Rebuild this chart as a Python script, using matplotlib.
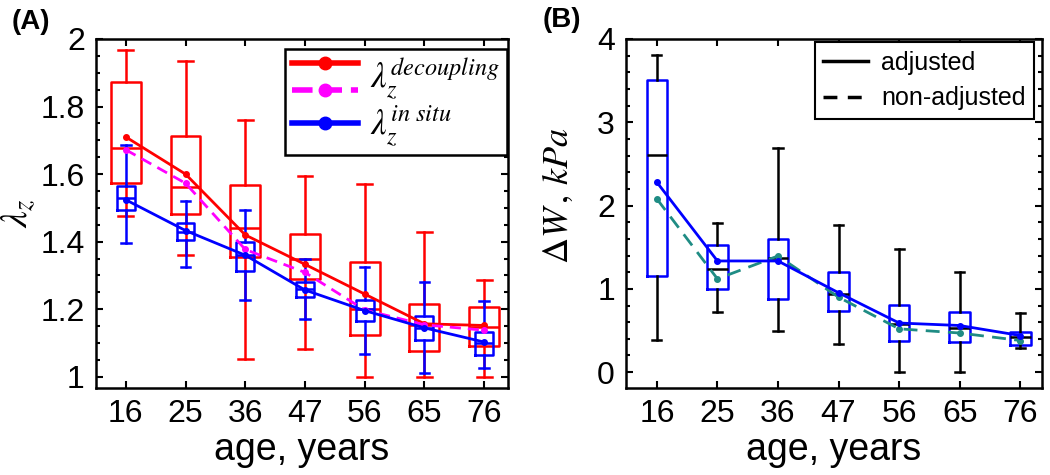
import matplotlib

matplotlib.use("Agg")

import matplotlib.pyplot as plt
from matplotlib.legend_handler import HandlerBase
from matplotlib.lines import Line2D
from matplotlib.ticker import FormatStrFormatter, MultipleLocator

plt.rcParams["font.family"] = ["Liberation Sans", "DejaVu Sans"]
plt.rcParams["mathtext.fontset"] = "stix"

ages = ["16", "25", "36", "47", "56", "65", "76"]

# (A) lambda_z decoupling (red boxes)
dec_whishi = [1.966, 1.936, 1.760, 1.594, 1.571, 1.430, 1.286]
dec_q3 = [1.874, 1.713, 1.567, 1.424, 1.341, 1.216, 1.208]
dec_med = [1.678, 1.561, 1.440, 1.350, 1.200, 1.152, 1.148]
dec_q1 = [1.573, 1.483, 1.355, 1.290, 1.125, 1.077, 1.091]
dec_whislo = [1.475, 1.360, 1.054, 1.081, 1.000, 1.000, 1.000]
dec_mean = [1.710, 1.600, 1.420, 1.333, 1.245, 1.157, 1.152]
dec_mean_nonadj = [1.672, 1.573, 1.377, 1.309, 1.198, 1.154, 1.138]

# (A) lambda_z in situ (blue boxes)
ins_whishi = [1.685, 1.521, 1.493, 1.348, 1.325, 1.282, 1.223]
ins_q3 = [1.566, 1.454, 1.400, 1.282, 1.226, 1.179, 1.133]
ins_med = [1.530, 1.430, 1.360, 1.260, 1.200, 1.145, 1.100]
ins_q1 = [1.493, 1.404, 1.312, 1.235, 1.165, 1.108, 1.066]
ins_whislo = [1.395, 1.326, 1.226, 1.172, 1.067, 1.011, 1.025]
ins_mean = [1.524, 1.433, 1.360, 1.257, 1.196, 1.145, 1.103]

# (B) delta W, kPa
dw_whishi = [3.81, 1.785, 2.69, 1.77, 1.475, 1.206, 0.71]
dw_q3 = [3.51, 1.53, 1.60, 1.20, 0.81, 0.72, 0.48]
dw_med = [2.61, 1.24, 1.375, 0.94, 0.58, 0.53, 0.42]
dw_q1 = [1.16, 1.00, 0.88, 0.74, 0.38, 0.36, 0.33]
dw_whislo = [0.39, 0.72, 0.50, 0.34, 0.00, 0.00, 0.29]
dw_mean_adj = [2.28, 1.335, 1.335, 0.953, 0.59, 0.56, 0.44]
dw_mean_nonadj = [2.08, 1.12, 1.395, 0.90, 0.52, 0.47, 0.38]

RED = "#ff0000"
BLUE = "#0000ff"
MAGENTA = "#ff00ff"
TEAL = "#1f8c84"
INK = "#000000"


def box_stats(lo, q1, med, q3, hi):
    return [
        dict(whislo=a, q1=b, med=c, q3=d, whishi=e, fliers=[])
        for a, b, c, d, e in zip(lo, q1, med, q3, hi)
    ]


def draw_boxes(ax, stats, positions, width, capwidth, box_color, whisker_color, median_color, z):
    ax.bxp(
        stats,
        positions=positions,
        widths=width,
        capwidths=capwidth,
        showfliers=False,
        boxprops=dict(color=box_color, linewidth=1.8),
        whiskerprops=dict(color=whisker_color, linewidth=1.8),
        capprops=dict(color=whisker_color, linewidth=1.8),
        medianprops=dict(color=median_color, linewidth=1.8),
        zorder=z,
        manage_ticks=False,
    )


class StackedLines(HandlerBase):
    """Legend handle that stacks several line+marker samples vertically."""

    def create_artists(self, legend, orig_handle, xdescent, ydescent, width, height, fontsize, trans):
        artists = []
        fracs = [0.5] if len(orig_handle) == 1 else [0.9, 0.1]
        x0, x1 = -xdescent, width - xdescent
        for frac, h in zip(fracs, orig_handle):
            y = -ydescent + height * frac
            artists.append(Line2D([x0, x1], [y, y], color=h.get_color(), lw=h.get_linewidth(),
                                  ls=h.get_linestyle(), transform=trans))
            artists.append(Line2D([(x0 + x1) / 2], [y], color=h.get_color(), marker="o",
                                  ms=h.get_markersize(), ls="none", transform=trans))
        return artists


def style_axes(ax, ylim, major, minor, xlim):
    ax.set_xlim(*xlim)
    ax.set_ylim(*ylim)
    ax.set_xticks(positions)
    ax.set_xticklabels(ages)
    ax.yaxis.set_major_locator(MultipleLocator(major))
    ax.yaxis.set_minor_locator(MultipleLocator(minor))
    ax.yaxis.set_major_formatter(FormatStrFormatter("%g"))
    ax.tick_params(which="both", direction="in", top=True, right=True, colors=INK,
                   labelsize=23, width=1.5, pad=8)
    ax.tick_params(which="major", length=5)
    ax.tick_params(which="minor", length=3)
    ax.tick_params(axis="x", which="minor", top=False, bottom=False)
    for spine in ax.spines.values():
        spine.set_linewidth(1.8)
        spine.set_color(INK)
    ax.set_xlabel("age, years", fontsize=27, labelpad=2)


positions = list(range(1, len(ages) + 1))

fig = plt.figure(figsize=(10.5, 4.75), dpi=100)
fig.patch.set_facecolor("white")

# ---------------- (A) ----------------
ax_a = fig.add_axes([0.0914, 0.1832, 0.3924, 0.7347])
draw_boxes(ax_a, box_stats(dec_whislo, dec_q1, dec_med, dec_q3, dec_whishi), positions,
           0.5, 0.25, RED, RED, RED, 2)
draw_boxes(ax_a, box_stats(ins_whislo, ins_q1, ins_med, ins_q3, ins_whishi), positions,
           0.3, 0.16, BLUE, BLUE, BLUE, 3)
ax_a.plot(positions, dec_mean, color=RED, lw=2, marker="o", ms=4, zorder=4)
ax_a.plot(positions, dec_mean_nonadj, color=MAGENTA, lw=2, ls=(0, (4, 2.5)), marker="o", ms=4, zorder=4)
ax_a.plot(positions, ins_mean, color=BLUE, lw=2, marker="o", ms=4, zorder=5)
style_axes(ax_a, (0.967, 2.0), 0.2, 0.05, (0.5, 7.4))
ax_a.set_ylabel(r"$\lambda_z$", fontsize=27, labelpad=0)
ax_a.yaxis.set_label_coords(-0.14, 0.5)

red_h = Line2D([], [], color=RED, lw=4, marker="o", ms=9)
mag_h = Line2D([], [], color=MAGENTA, lw=4, ls=(0, (2.2, 1.2)), marker="o", ms=9)
blue_h = Line2D([], [], color=BLUE, lw=4, marker="o", ms=9)
leg_a = ax_a.legend(
    [(red_h, mag_h), (blue_h,)],
    [r"$\lambda_z^{decoupling}$", r"$\lambda_z^{in\ situ}$"],
    handler_map={tuple: StackedLines()},
    loc="upper right",
    bbox_to_anchor=(0.998, 0.972),
    borderaxespad=0,
    fontsize=25,
    handlelength=1.9,
    handleheight=1.1,
    handletextpad=0.35,
    labelspacing=0.05,
    borderpad=0.2,
    fancybox=False,
    framealpha=1,
    edgecolor=INK,
)
leg_a.get_frame().set_linewidth(1.8)
leg_a.set_zorder(10)

# ---------------- (B) ----------------
ax_b = fig.add_axes([0.5962, 0.1832, 0.3962, 0.7347])
draw_boxes(ax_b, box_stats(dw_whislo, dw_q1, dw_med, dw_q3, dw_whishi), positions,
           0.34, 0.15, BLUE, INK, INK, 2)
ax_b.plot(positions, dw_mean_nonadj, color=TEAL, lw=2, ls=(0, (5, 3)), marker="o", ms=4, zorder=4)
ax_b.plot(positions, dw_mean_adj, color=BLUE, lw=2, marker="o", ms=4, zorder=5)
style_axes(ax_b, (-0.19, 4.0), 1, 0.2, (0.49, 7.36))
ax_b.set_ylabel(r"$\Delta W\,,\,kPa$", fontsize=26, labelpad=0)
ax_b.yaxis.set_label_coords(-0.12, 0.55)

adj_h = Line2D([], [], color=INK, lw=2.5)
nonadj_h = Line2D([], [], color=INK, lw=2.5, ls=(0, (4, 3)))
leg_b = ax_b.legend(
    [adj_h, nonadj_h],
    ["adjusted", "non-adjusted"],
    loc="upper right",
    bbox_to_anchor=(0.981, 0.99),
    borderaxespad=0,
    fontsize=18,
    handlelength=1.8,
    handletextpad=0.5,
    labelspacing=0.45,
    borderpad=0.35,
    fancybox=False,
    framealpha=1,
    edgecolor=INK,
)
leg_b.get_frame().set_linewidth(1.5)
leg_b.set_zorder(10)

fig.text(0.0295, 0.953, "(A)", fontsize=20, fontweight="bold", ha="center", va="center")
fig.text(0.535, 0.957, "(B)", fontsize=20, fontweight="bold", ha="center", va="center")

fig.savefig("out.png", dpi=100, facecolor="white")
